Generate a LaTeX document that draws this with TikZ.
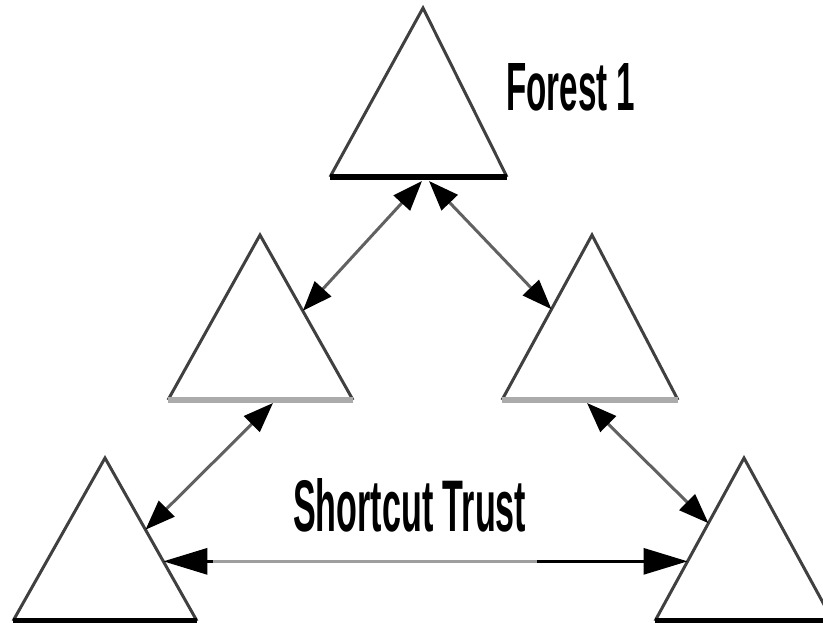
\documentclass[tikz,border=0pt]{standalone}
\usepackage{fontspec}
\usepackage{graphicx}
\setmainfont{Liberation Sans}
\usetikzlibrary{arrows.meta,calc}
\begin{document}
\begin{tikzpicture}[x=1pt,y=-1pt,
  sideline/.style={draw=black!75, line width=3pt, line join=miter},
  darkbase/.style={draw=black, line width=6pt},
  lightbase/.style={draw=black!33, line width=6pt},
  tip/.tip={Triangle[length=30pt,width=22pt,color=black]},
  longtip/.tip={Triangle[length=44pt,width=26pt,color=black]},
  trust/.style={draw=black!62, line width=3pt, tip-tip},
  longtrust/.style={draw=black, line width=3pt, longtip-longtip},
  caption/.style={anchor=south west, inner sep=0pt, font=\bfseries}]

\clip (0,0) rectangle (823,623);

% corners of the five forests: apex, base left, base right
\coordinate (T-a)  at (423,8);   \coordinate (T-l)  at (330,177); \coordinate (T-r)  at (507,177);
\coordinate (L-a)  at (260,235); \coordinate (L-l)  at (168,400); \coordinate (L-r)  at (353,400);
\coordinate (R-a)  at (592,235); \coordinate (R-l)  at (502,400); \coordinate (R-r)  at (678,400);
\coordinate (BL-a) at (105,458); \coordinate (BL-l) at (13,621);  \coordinate (BL-r) at (197,621);
\coordinate (BR-a) at (744,458); \coordinate (BR-l) at (655,621); \coordinate (BR-r) at (833,621);

% forests
\foreach \f in {T,L,R,BL,BR} \draw[sideline] (\f-l) -- (\f-a) -- (\f-r);
\draw[darkbase]  (T-l)  -- (T-r);
\draw[lightbase] (L-l)  -- (L-r);
\draw[lightbase] (R-l)  -- (R-r);
\draw[darkbase]  (BL-l) -- (BL-r);
\draw[darkbase]  (BR-l) -- (BR-r);

% attachment points of the trusts
\coordinate (T-p1) at (422,181);
\coordinate (T-p2) at (429,181);
\coordinate (L-p)  at (273,403);
\coordinate (R-p)  at (587,403);
\coordinate (L-in)  at ($(L-a)!0.46!(L-r)$);
\coordinate (R-in)  at ($(R-a)!0.45!(R-l)$);
\coordinate (BL-in) at ($(BL-a)!0.44!(BL-r)$);
\coordinate (BR-in) at ($(BR-a)!0.40!(BR-l)$);
\coordinate (BL-h)  at ($(BL-a)!0.634!(BL-r)$);
\coordinate (BR-h)  at ($(BR-a)!0.634!(BR-l)$);

% tree-root trusts
\draw[trust] (T-p1) -- (L-in);
\draw[trust] (T-p2) -- (R-in);
\draw[trust] (L-p) -- (BL-in);
\draw[trust] (R-p) -- (BR-in);

% shortcut trust
\draw[longtrust] (BL-h) -- (BR-h);
\draw[draw=black!38, line width=3pt] ($(BL-h)!0.095!(BR-h)$) -- ($(BL-h)!0.712!(BR-h)$);

% labels
\node[caption] (forest) at (506,111) {\resizebox{129pt}{47pt}{Forest 1}};
\node[caption] (shortcut) at (293,532) {\resizebox{233pt}{53pt}{Shortcut Trust}};
\end{tikzpicture}
\end{document}
